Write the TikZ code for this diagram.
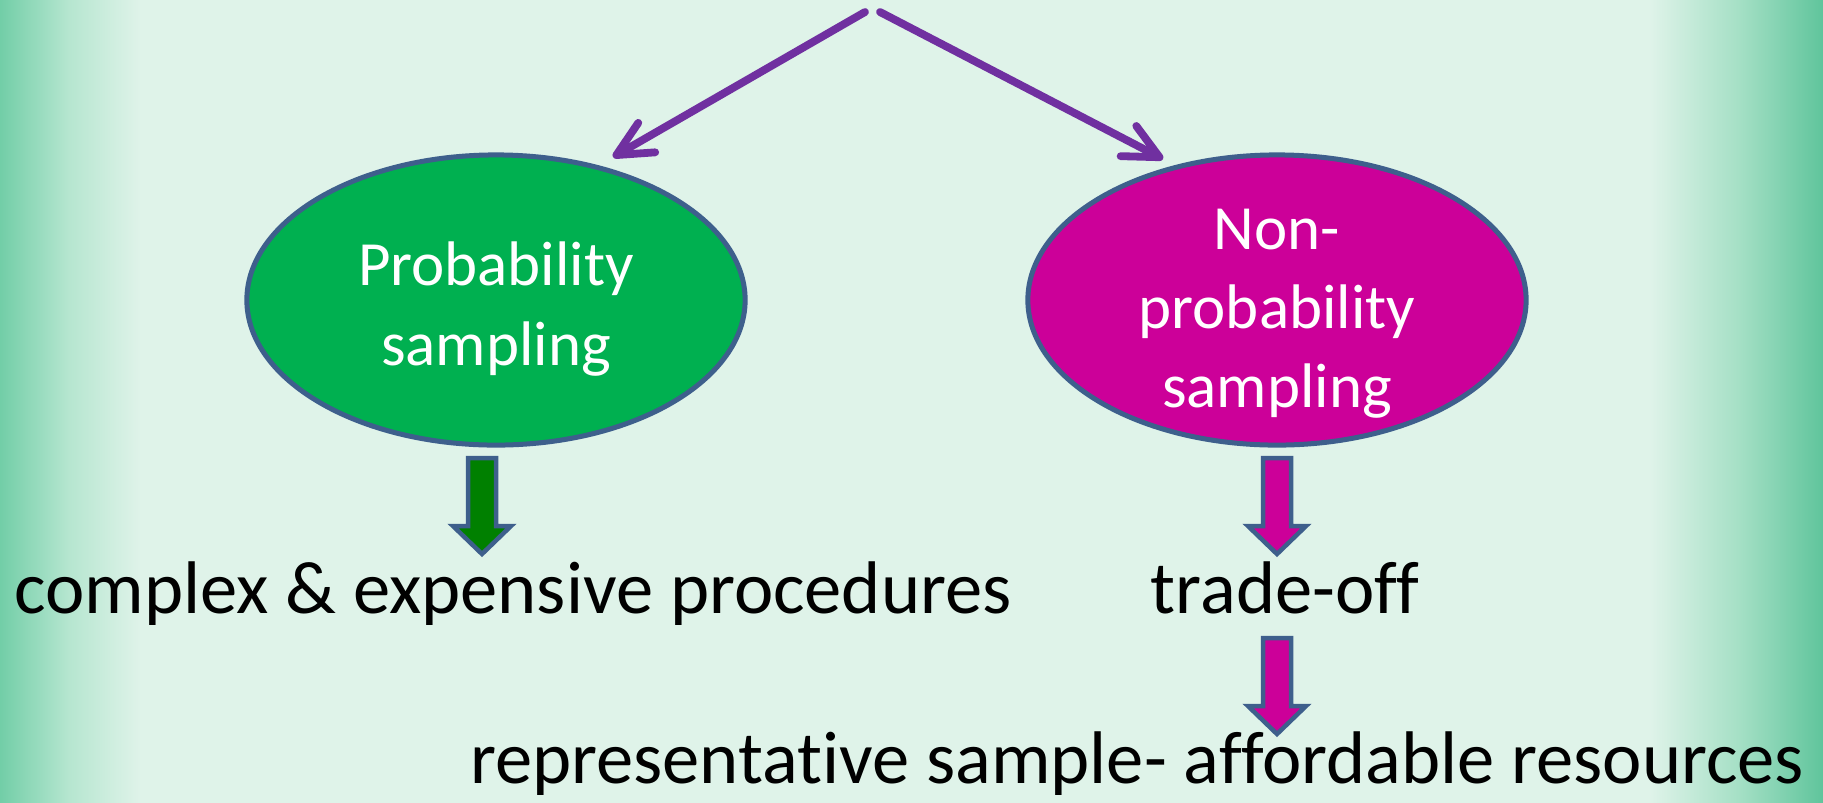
\documentclass[tikz,border=0pt]{standalone}
\usepackage{fontspec}
\setmainfont{Carlito}[Ligatures={NoCommon}]
\usetikzlibrary{arrows.meta,shapes.geometric}

\definecolor{mintbg}{HTML}{DFF3E9}
\definecolor{mintedgeL}{HTML}{70CDA6}
\definecolor{mintedgeR}{HTML}{5EC49B}
\definecolor{mintmidL}{HTML}{B6E6D0}
\definecolor{mintmidR}{HTML}{A6E0C6}
\definecolor{splitpurple}{HTML}{7030A0}
\definecolor{probgreen}{HTML}{00B050}
\definecolor{nonprobmagenta}{HTML}{CC0099}
\definecolor{outlineblue}{HTML}{3E5F8C}
\definecolor{arrowgreen}{HTML}{008000}

\tikzset{
  ovalbox/.style={ellipse, draw=outlineblue, line width=0.05cm,
    minimum width=4.98cm, minimum height=2.90cm, inner sep=0pt},
  ovaltext/.style={text=white, align=center, inner sep=0pt,
    font=\fontsize{17.9pt}{22.5pt}\selectfont},
  splitarrow/.style={draw=splitpurple, line width=0.078cm, line cap=round,
    -{Straight Barb[length=0.35cm,width=0.34cm,round]}},
  blockarrow/.style={draw=outlineblue, line width=0.045cm, line join=miter},
  bigtext/.style={anchor=base, inner sep=0pt, text=black,
    font=\fontsize{21.2pt}{25pt}\selectfont}
}

\begin{document}
\begin{tikzpicture}[x=0.01cm, y=-0.01cm]
  \useasboundingbox (0,0) rectangle (1823,802);

  % background with soft green side margins
  \fill[mintbg] (-2,-2) rectangle (1825,804);
  \shade[left color=mintedgeL, right color=mintbg, middle color=mintmidL]
    (-2,-2) rectangle (140,804);
  \shade[left color=mintbg, right color=mintedgeR, middle color=mintmidR]
    (1650,-2) rectangle (1825,804);

  % the two sampling families
  \node[ovalbox, fill=probgreen] (prob) at (496,300) {};
  \node[ovaltext] (probtxt) at (496,309) {Probability\\sampling};
  \node[ovalbox, fill=nonprobmagenta] (nonprob) at (1277,300) {};
  \node[ovaltext] (nonprobtxt) at (1277,314) {Non-\\probability\\sampling};

  % split arrows coming down from above
  \coordinate (splitL) at (865,12);
  \coordinate (splitR) at (880,12);
  \coordinate (tipL) at (613,157);
  \coordinate (tipR) at (1163,159);
  \draw[splitarrow] (splitL) -- (tipL);
  \draw[splitarrow] (splitR) -- (tipR);

  % consequences
  \node[bigtext] (complex) at (513,613) {complex \& expensive procedures};
  \node[bigtext] (tradeoff) at (1285,613) {trade-off};
  \node[bigtext] (repr) at (1137,783) {representative sample- affordable resources};

  % block arrows
  \coordinate (baL) at (482,458);
  \coordinate (baR) at (1277,458);
  \coordinate (baR2) at (1277,638);
  \draw[blockarrow, fill=arrowgreen] (baL) ++(-14,0) -- ++(28,0) -- ++(0,68)
    -- ++(15,0) -- ++(-29,28) -- ++(-29,-28) -- ++(15,0) -- cycle;
  \draw[blockarrow, fill=nonprobmagenta] (baR) ++(-14,0) -- ++(28,0) -- ++(0,68)
    -- ++(15,0) -- ++(-29,28) -- ++(-29,-28) -- ++(15,0) -- cycle;
  \draw[blockarrow, fill=nonprobmagenta] (baR2) ++(-14,0) -- ++(28,0) -- ++(0,68)
    -- ++(15,0) -- ++(-29,28) -- ++(-29,-28) -- ++(15,0) -- cycle;
\end{tikzpicture}
\end{document}
